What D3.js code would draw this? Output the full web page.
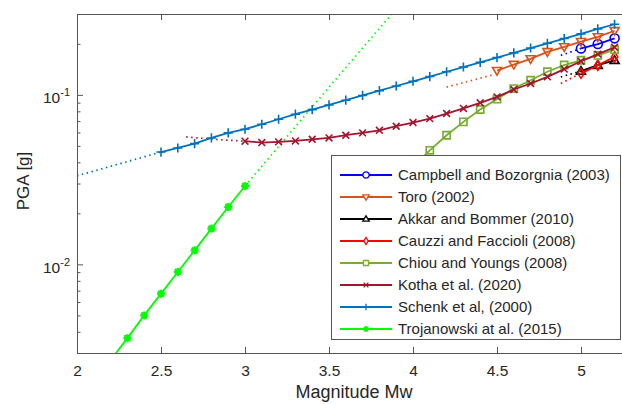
<!DOCTYPE html>
<html>
<head>
<meta charset="utf-8">
<script src="https://cdnjs.cloudflare.com/ajax/libs/d3/7.8.5/d3.min.js"></script>
<style>
	body { margin: 0; background: #fff; }
	svg { display: block; font-family: "Liberation Sans", Arial, Helvetica, sans-serif; }
</style>
</head>
<body>
<svg id="chart" width="622" height="404"></svg>
<script>
// PGA vs magnitude

var xTicks = [2, 2.5, 3, 3.5, 4, 4.5, 5];
var yMajor = [0.01, 0.1];
var yMinor = [0.003, 0.004, 0.005, 0.006, 0.007, 0.008, 0.009, 0.02, 0.03, 0.04, 0.05, 0.06, 0.07, 0.08, 0.09, 0.2, 0.3];

var magCampbell = [5.0, 5.1, 5.2];
var pgaCampbell = [0.188, 0.1995, 0.2155];
var magCampbellExt = [4.88, 5.0];
var pgaCampbellExt = [0.171, 0.188];

var magToro = [4.5, 4.6, 4.7, 4.8, 4.9, 5.0, 5.1, 5.2];
var pgaToro = [0.139, 0.151, 0.163, 0.1795, 0.192, 0.206, 0.220, 0.239];
var magToroExt = [4.2, 4.47];
var pgaToroExt = [0.111, 0.131];

var magAkkar = [5.0, 5.1, 5.2];
var pgaAkkar = [0.138, 0.1496, 0.160];
var magAkkarExt = [4.88, 5.0];
var pgaAkkarExt = [0.1277, 0.138];

var magCauzzi = [5.0, 5.1, 5.2];
var pgaCauzzi = [0.134, 0.1496, 0.1675];
var magCauzziExt = [4.88, 5.0];
var pgaCauzziExt = [0.1167, 0.134];

var magChiou = [4.0, 4.1, 4.2, 4.3, 4.4, 4.5, 4.6, 4.7, 4.8, 4.9, 5.0, 5.1, 5.2];
var pgaChiou = [0.0378, 0.0471, 0.0578, 0.0693, 0.082, 0.0944, 0.109, 0.122, 0.137, 0.150, 0.160, 0.171, 0.185];

var magKotha = [3.0, 3.1, 3.2, 3.3, 3.4, 3.5, 3.6, 3.7, 3.8, 3.9, 4.0, 4.1, 4.2, 4.3, 4.4, 4.5, 4.6, 4.7, 4.8, 4.9, 5.0, 5.1, 5.2];
var pgaKotha = [0.0533, 0.0523, 0.0528, 0.0535, 0.0547, 0.0557, 0.0578, 0.0597, 0.0618, 0.0653, 0.0687, 0.0724, 0.0776, 0.0832, 0.0898, 0.0973, 0.1076, 0.1167, 0.1277, 0.142, 0.158, 0.174, 0.191];
var magKothaExt = [2.65, 2.8, 3.0];
var pgaKothaExt = [0.0565, 0.0548, 0.0533];

var magSchenk = [2.5, 2.6, 2.7, 2.8, 2.9, 3.0, 3.1, 3.2, 3.3, 3.4, 3.5, 3.6, 3.7, 3.8, 3.9, 4.0, 4.1, 4.2, 4.3, 4.4, 4.5, 4.6, 4.7, 4.8, 4.9, 5.0, 5.1, 5.2];
var pgaSchenk = [0.046, 0.0486, 0.0516, 0.0557, 0.0597, 0.0627, 0.0671, 0.0718, 0.0769, 0.0818, 0.0872, 0.093, 0.0992, 0.1058, 0.1128, 0.1203, 0.1283, 0.1369, 0.146, 0.1557, 0.166, 0.177, 0.189, 0.2015, 0.215, 0.229, 0.245, 0.261];
var magSchenkExt = [2.0, 2.5];
var pgaSchenkExt = [0.0333, 0.046];

var magTrojan = [2.2, 2.3, 2.4, 2.5, 2.6, 2.7, 2.8, 2.9, 3.0];
var pgaTrojan = [0.00272, 0.00367, 0.0050, 0.00672, 0.00902, 0.0121, 0.01626, 0.0218, 0.029];
var magTrojanExt = [3.0, 3.5, 4.0];
var pgaTrojanExt = [0.029, 0.111, 0.42];

var models = [
	{ name: "Campbell and Bozorgnia (2003)", color: "#0000ff", marker: "o", mag: magCampbell, pga: pgaCampbell, extMag: magCampbellExt, extPga: pgaCampbellExt },
	{ name: "Toro (2002)", color: "#d95319", marker: "v", mag: magToro, pga: pgaToro, extMag: magToroExt, extPga: pgaToroExt },
	{ name: "Akkar and Bommer (2010)", color: "#000000", marker: "^", mag: magAkkar, pga: pgaAkkar, extMag: magAkkarExt, extPga: pgaAkkarExt },
	{ name: "Cauzzi and Faccioli (2008)", color: "#ff0000", marker: "d", mag: magCauzzi, pga: pgaCauzzi, extMag: magCauzziExt, extPga: pgaCauzziExt },
	{ name: "Chiou and Youngs (2008)", color: "#77ac30", marker: "s", mag: magChiou, pga: pgaChiou },
	{ name: "Kotha et al. (2020)", color: "#a2142f", marker: "x", mag: magKotha, pga: pgaKotha, extMag: magKothaExt, extPga: pgaKothaExt },
	{ name: "Schenk et al, (2000)", color: "#0072bd", marker: "+", mag: magSchenk, pga: pgaSchenk, extMag: magSchenkExt, extPga: pgaSchenkExt },
	{ name: "Trojanowski at al. (2015)", color: "#00ff00", marker: "*", mag: magTrojan, pga: pgaTrojan, extMag: magTrojanExt, extPga: pgaTrojanExt }
];

// note: "top" is taken by window.top
var plotLeft = 77, plotTop = 14, plotBottom = 353;
var axisColor = "#555", textColor = "#262626";

var svg = d3.select("#chart");

// right edge of the axes box lies outside the picture
var x = d3.scaleLinear().domain([2, 5.5]).range([plotLeft, plotLeft + 3.5 * 168]);
var y = d3.scaleLog().domain([0.003, 0.3]).range([plotBottom, plotTop]);

svg.append("clipPath").attr("id", "plotclip")
	.append("rect")
	.attr("x", plotLeft).attr("y", plotTop)
	.attr("width", 700).attr("height", plotBottom - plotTop);

// marker shapes, s = half size
function markerPath(type, s) {
	switch(type) {
	case "o":
		return "M" + s + ",0A" + s + "," + s + " 0 1,1 " + (-s) + ",0A" + s + "," + s + " 0 1,1 " + s + ",0Z";
	case "v":
		return "M" + (-s) + "," + (-s * 0.7) + "L" + s + "," + (-s * 0.7) + "L0," + s + "Z";
	case "^":
		return "M" + (-s) + "," + (s * 0.7) + "L" + s + "," + (s * 0.7) + "L0," + (-s) + "Z";
	case "d":
		return "M0," + (-s * 1.25) + "L" + (s * 0.8) + ",0L0," + (s * 1.25) + "L" + (-s * 0.8) + ",0Z";
	case "s":
		return "M" + (-s) + "," + (-s) + "H" + s + "V" + s + "H" + (-s) + "Z";
	case "x":
		return "M" + (-s) + "," + (-s) + "L" + s + "," + s + "M" + (-s) + "," + s + "L" + s + "," + (-s);
	case "+":
		return "M" + (-s) + ",0H" + s + "M0," + (-s) + "V" + s;
	case "*":
		var d = s * 0.72;
		return "M" + (-s) + ",0H" + s + "M0," + (-s) + "V" + s +
			"M" + (-d) + "," + (-d) + "L" + d + "," + d + "M" + (-d) + "," + d + "L" + d + "," + (-d);
	}
}
var markerSize = { "o": 4.5, "v": 4.5, "^": 4.5, "d": 4, "s": 3.6, "x": 3.4, "+": 4.6, "*": 4 };

var line = d3.line()
	.x(function(p) { return x(p[0]); })
	.y(function(p) { return y(p[1]); });

var plot = svg.append("g").attr("clip-path", "url(#plotclip)");

// dotted extrapolations first
models.forEach(function(m) {
	if(!m.extMag)
		return;
	plot.append("path")
		.datum(d3.zip(m.extMag, m.extPga))
		.attr("d", line)
		.attr("fill", "none")
		.attr("stroke", m.color)
		.attr("stroke-width", 1.7)
		.attr("stroke-dasharray", "1.5,3.5");
});

models.forEach(function(m) {
	var pts = d3.zip(m.mag, m.pga);
	plot.append("path")
		.datum(pts)
		.attr("d", line)
		.attr("fill", "none")
		.attr("stroke", m.color)
		.attr("stroke-width", 1.8);
	plot.selectAll(null)
		.data(pts.filter(function(p) { return p[1] >= 0.003; }))
		.enter().append("path")
		.attr("transform", function(p) { return "translate(" + x(p[0]) + "," + y(p[1]) + ")"; })
		.attr("d", markerPath(m.marker, markerSize[m.marker]))
		.attr("fill", "none")
		.attr("stroke", m.color)
		.attr("stroke-width", m.marker === "*" ? 2.2 : 1.6);
});

// axes, ticks pointing inward
var xAxis = svg.append("g")
	.attr("transform", "translate(0," + plotBottom + ")")
	.call(d3.axisBottom(x).tickValues(xTicks).tickSizeInner(-6).tickSizeOuter(0).tickPadding(12)
		.tickFormat(function(d) { return String(d); }));
svg.append("g")
	.attr("transform", "translate(0," + plotTop + ")")
	.call(d3.axisTop(x).tickValues(xTicks).tickSizeInner(-6).tickSizeOuter(0).tickFormat(""));
svg.append("g")
	.attr("transform", "translate(" + plotLeft + ",0)")
	.call(d3.axisLeft(y).tickValues(yMinor).tickSizeInner(-3.5).tickSizeOuter(0).tickFormat(""));
var yAxis = svg.append("g")
	.attr("transform", "translate(" + plotLeft + ",0)")
	.call(d3.axisLeft(y).tickValues(yMajor).tickSizeInner(-6).tickSizeOuter(0).tickPadding(0).tickFormat(""));

svg.selectAll(".domain, .tick line").attr("stroke", axisColor);

xAxis.selectAll("text")
	.attr("fill", textColor)
	.style("font-size", "15.5px");

// 10^n labels
yAxis.selectAll(".tick").each(function(d) {
	var t = d3.select(this).append("text")
		.attr("x", -7)
		.attr("y", 8)
		.attr("text-anchor", "end")
		.attr("fill", textColor)
		.style("font-size", "15.5px");
	t.append("tspan").text("10");
	t.append("tspan")
		.attr("dy", -7)
		.style("font-size", "11px")
		.text(String(Math.round(Math.log10(d))));
});

svg.append("text")
	.attr("x", 354)
	.attr("y", 398)
	.attr("text-anchor", "middle")
	.attr("fill", textColor)
	.style("font-size", "18px")
	.text("Magnitude Mw");

svg.append("text")
	.attr("transform", "translate(29,181) rotate(-90)")
	.attr("text-anchor", "middle")
	.attr("fill", textColor)
	.style("font-size", "17px")
	.text("PGA [g]");

// legend
var legend = svg.append("g");
legend.append("rect")
	.attr("x", 331.5).attr("y", 155.5)
	.attr("width", 289).attr("height", 184)
	.attr("fill", "#fff")
	.attr("stroke", axisColor);

models.forEach(function(m, i) {
	var ly = 175 + i * 22;
	legend.append("line")
		.attr("x1", 340).attr("x2", 392)
		.attr("y1", ly).attr("y2", ly)
		.attr("stroke", m.color)
		.attr("stroke-width", 1.8);
	legend.append("path")
		.attr("transform", "translate(366," + ly + ")")
		.attr("d", markerPath(m.marker, markerSize[m.marker] * 0.7))
		.attr("fill", "#fff")
		.attr("stroke", m.color)
		.attr("stroke-width", m.marker === "*" ? 2 : 1.3);
	legend.append("text")
		.attr("x", 398)
		.attr("y", ly + 5)
		.attr("fill", textColor)
		.style("font-size", "15px")
		.text(m.name);
});
</script>
</body>
</html>
